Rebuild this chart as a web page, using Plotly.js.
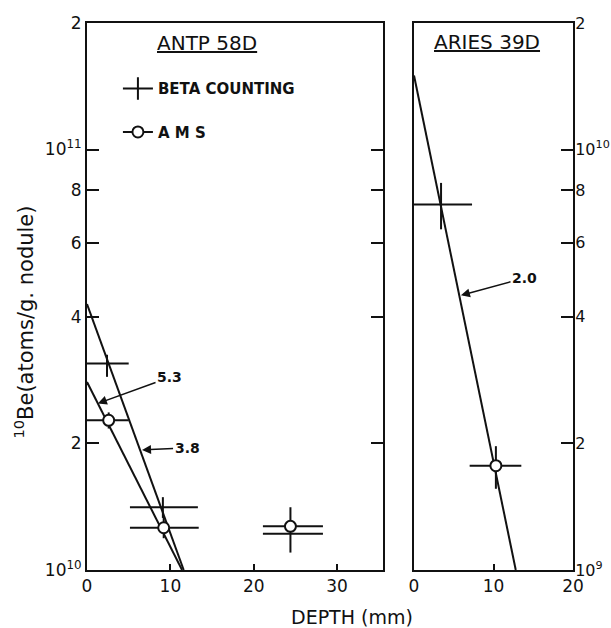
<!DOCTYPE html>
<html>
<head>
<meta charset="utf-8">
<script src="https://cdn.plot.ly/plotly-3.0.1.min.js"></script>
<style>html,body{margin:0;padding:0;background:#fff;}</style>
</head>
<body>
<div id="chart" style="width:611px;height:628px;"></div>
<script>
// ---- ANTP 58D (left panel) ----
const antpBetaDepth = [2.4, 9.1, 24.3];
const antpBetaBe = [3.1e10, 1.41e10, 1.22e10];
const antpBetaDepthErrMinus = [2.4, 3.95, 3.2];
const antpBetaDepthErrPlus = [2.6, 4.2, 4.0];
const antpBetaBeErrPlus = [0.15e10, 0.08e10, 0];
const antpBetaBeErrMinus = [0.22e10, 0.08e10, 0];

const antpAmsDepth = [2.6, 9.2, 24.4];
const antpAmsBe = [2.27e10, 1.26e10, 1.27e10];
const antpAmsDepthErrMinus = [2.6, 4.05, 3.3];
const antpAmsDepthErrPlus = [2.4, 4.2, 3.9];
const antpAmsBeErrPlus = [0.1e10, 0.08e10, 0.14e10];
const antpAmsBeErrMinus = [0.1e10, 0.07e10, 0.17e10];

const fit38Depth = [0, 11.6];
const fit38Be = [4.29e10, 1.0e10];
const fit53Depth = [0, 11.4];
const fit53Be = [2.8e10, 1.0e10];

// ---- ARIES 39D (right panel) ----
const ariesBetaDepth = [3.4];
const ariesBetaBe = [7.4e9];
const ariesBetaDepthErrMinus = [3.4];
const ariesBetaDepthErrPlus = [3.9];
const ariesBetaBeErrPlus = [0.93e9];
const ariesBetaBeErrMinus = [0.94e9];

const ariesAmsDepth = [10.3];
const ariesAmsBe = [1.77e9];
const ariesAmsDepthErrMinus = [3.3];
const ariesAmsDepthErrPlus = [3.2];
const ariesAmsBeErrPlus = [0.2e9];
const ariesAmsBeErrMinus = [0.21e9];

const fit20Depth = [0, 12.8];
const fit20Be = [1.5e10, 1.0e9];

// ---- tick labels ----
const leftTickVals = [1e10, 2e10, 4e10, 6e10, 8e10, 1e11, 2e11];
const leftTickText = ['10<sup>10</sup>', '2', '4', '6', '8', '10<sup>11</sup>', '2'];
const rightTickVals = [1e9, 2e9, 4e9, 6e9, 8e9, 1e10, 2e10];
const rightTickText = ['10<sup>9</sup>', '2', '4', '6', '8', '10<sup>10</sup>', '2'];
const leftXTicks = [0, 10, 20, 30];
const rightXTicks = [0, 10, 20];

const FONT = 'DejaVu Sans, Verdana, sans-serif';
const ink = '#111';

function errBar(minus, plus) {
  return {type: 'data', symmetric: false, array: plus, arrayminus: minus,
          color: ink, thickness: 2, width: 0};
}
const betaMarker = {size: 2, color: 'rgba(0,0,0,0)'};
const amsMarker = {symbol: 'circle', size: 11, color: '#fff', line: {color: ink, width: 2}};

const data = [
  {x: fit38Depth, y: fit38Be, mode: 'lines', line: {color: ink, width: 2}, showlegend: false, xaxis: 'x', yaxis: 'y'},
  {x: fit53Depth, y: fit53Be, mode: 'lines', line: {color: ink, width: 2}, showlegend: false, xaxis: 'x', yaxis: 'y'},
  {x: antpBetaDepth, y: antpBetaBe, mode: 'markers', marker: betaMarker,
   error_x: errBar(antpBetaDepthErrMinus, antpBetaDepthErrPlus),
   error_y: errBar(antpBetaBeErrMinus, antpBetaBeErrPlus), showlegend: false, xaxis: 'x', yaxis: 'y'},
  {x: antpAmsDepth, y: antpAmsBe, mode: 'markers', marker: amsMarker,
   error_x: errBar(antpAmsDepthErrMinus, antpAmsDepthErrPlus),
   error_y: errBar(antpAmsBeErrMinus, antpAmsBeErrPlus), showlegend: false, xaxis: 'x', yaxis: 'y'},
  {x: fit20Depth, y: fit20Be, mode: 'lines', line: {color: ink, width: 2}, showlegend: false, xaxis: 'x2', yaxis: 'y2'},
  {x: ariesBetaDepth, y: ariesBetaBe, mode: 'markers', marker: betaMarker,
   error_x: errBar(ariesBetaDepthErrMinus, ariesBetaDepthErrPlus),
   error_y: errBar(ariesBetaBeErrMinus, ariesBetaBeErrPlus), showlegend: false, xaxis: 'x2', yaxis: 'y2'},
  {x: ariesAmsDepth, y: ariesAmsBe, mode: 'markers', marker: amsMarker,
   error_x: errBar(ariesAmsDepthErrMinus, ariesAmsDepthErrPlus),
   error_y: errBar(ariesAmsBeErrMinus, ariesAmsBeErrPlus), showlegend: false, xaxis: 'x2', yaxis: 'y2'},
  // legend-only entries (no plotted points)
  {x: [null], y: [null], mode: 'lines+markers', name: 'BETA COUNTING', legendgroup: 'b', showlegend: true,
   line: {color: ink, width: 2}, marker: {symbol: 'line-ns-open', size: 16, color: ink, line: {color: ink, width: 2}},
   xaxis: 'x', yaxis: 'y'},
  {x: [null], y: [null], mode: 'lines+markers', name: 'A M S', legendgroup: 'a', showlegend: true,
   line: {color: ink, width: 2}, marker: amsMarker, xaxis: 'x', yaxis: 'y'}
];

const axisCommon = {
  showgrid: false, zeroline: false, showline: true, linecolor: ink, linewidth: 2,
  ticks: 'inside', tickcolor: ink, tickwidth: 2, automargin: false,
  tickfont: {family: FONT, size: 17, color: ink}, tickmode: 'array'
};

const layout = {
  width: 611, height: 628,
  margin: {l: 0, r: 0, t: 0, b: 0},
  paper_bgcolor: '#fff', plot_bgcolor: '#fff',
  font: {family: FONT, color: ink},
  showlegend: true,
  legend: {x: 0.193, y: 0.885, xanchor: 'left', yanchor: 'top', bgcolor: 'rgba(0,0,0,0)',
           font: {family: FONT, size: 15, color: ink, weight: 'bold'}, traceorder: 'grouped', tracegroupgap: 21},
  xaxis: Object.assign({}, axisCommon, {domain: [0.1424, 0.6268], range: [0, 35.5], anchor: 'y',
           tickvals: leftXTicks, ticklen: 6, mirror: true}),
  yaxis: Object.assign({}, axisCommon, {domain: [0.0924, 0.9634], type: 'log', range: [10, Math.log10(2e11)],
           anchor: 'x', tickvals: leftTickVals, ticktext: leftTickText, ticklen: 12, mirror: 'ticks'}),
  xaxis2: Object.assign({}, axisCommon, {domain: [0.6776, 0.9378], range: [0, 20], anchor: 'y2',
           tickvals: rightXTicks, ticklen: 6, mirror: true}),
  yaxis2: Object.assign({}, axisCommon, {domain: [0.0924, 0.9634], type: 'log', range: [9, Math.log10(2e10)],
           anchor: 'x2', side: 'right', tickvals: rightTickVals, ticktext: rightTickText, ticklen: 12, mirror: true,
           ticklabelstandoff: -3, tickfont: {family: FONT, size: 16, color: ink}}),
  annotations: [
    {text: '<sup>10</sup>Be(atoms/g. nodule)', xref: 'paper', yref: 'paper', x: 0.04, y: 0.487,
     xanchor: 'center', yanchor: 'middle', textangle: -90, showarrow: false,
     font: {family: FONT, size: 21, color: ink}},
    {text: '<u>ANTP 58D</u>', xref: 'paper', yref: 'paper', x: 0.339, y: 0.932, xanchor: 'center', yanchor: 'middle',
     showarrow: false, font: {family: FONT, size: 20, color: ink}},
    {text: '<u>ARIES 39D</u>', xref: 'paper', yref: 'paper', x: 0.797, y: 0.933, xanchor: 'center', yanchor: 'middle',
     showarrow: false, font: {family: FONT, size: 20, color: ink}},
    {text: 'DEPTH (mm)', xref: 'paper', yref: 'paper', x: 0.576, y: 0.0175, xanchor: 'center', yanchor: 'middle',
     showarrow: false, font: {family: FONT, size: 19, color: ink}},
    {text: '5.3', xref: 'x', yref: 'y', x: 1.3, y: Math.log10(2.49e10), axref: 'x', ayref: 'y',
     ax: 9.9, ay: Math.log10(2.87e10), showarrow: true, arrowhead: 2, arrowsize: 1.2, arrowwidth: 1.5,
     arrowcolor: ink, font: {family: FONT, size: 14, color: ink, weight: 'bold'}},
    {text: '3.8', xref: 'x', yref: 'y', x: 6.6, y: Math.log10(1.93e10), axref: 'x', ayref: 'y',
     ax: 12.0, ay: Math.log10(1.95e10), showarrow: true, arrowhead: 2, arrowsize: 1.2, arrowwidth: 1.5,
     arrowcolor: ink, font: {family: FONT, size: 14, color: ink, weight: 'bold'}},
    {text: '2.0', xref: 'x2', yref: 'y2', x: 5.9, y: Math.log10(4.5e9), axref: 'x2', ayref: 'y2',
     ax: 13.9, ay: Math.log10(4.95e9), showarrow: true, arrowhead: 2, arrowsize: 1.2, arrowwidth: 1.5,
     arrowcolor: ink, font: {family: FONT, size: 14, color: ink, weight: 'bold'}}
  ]
};

Plotly.newPlot('chart', data, layout, {staticPlot: true, displayModeBar: false});
</script>
</body>
</html>
